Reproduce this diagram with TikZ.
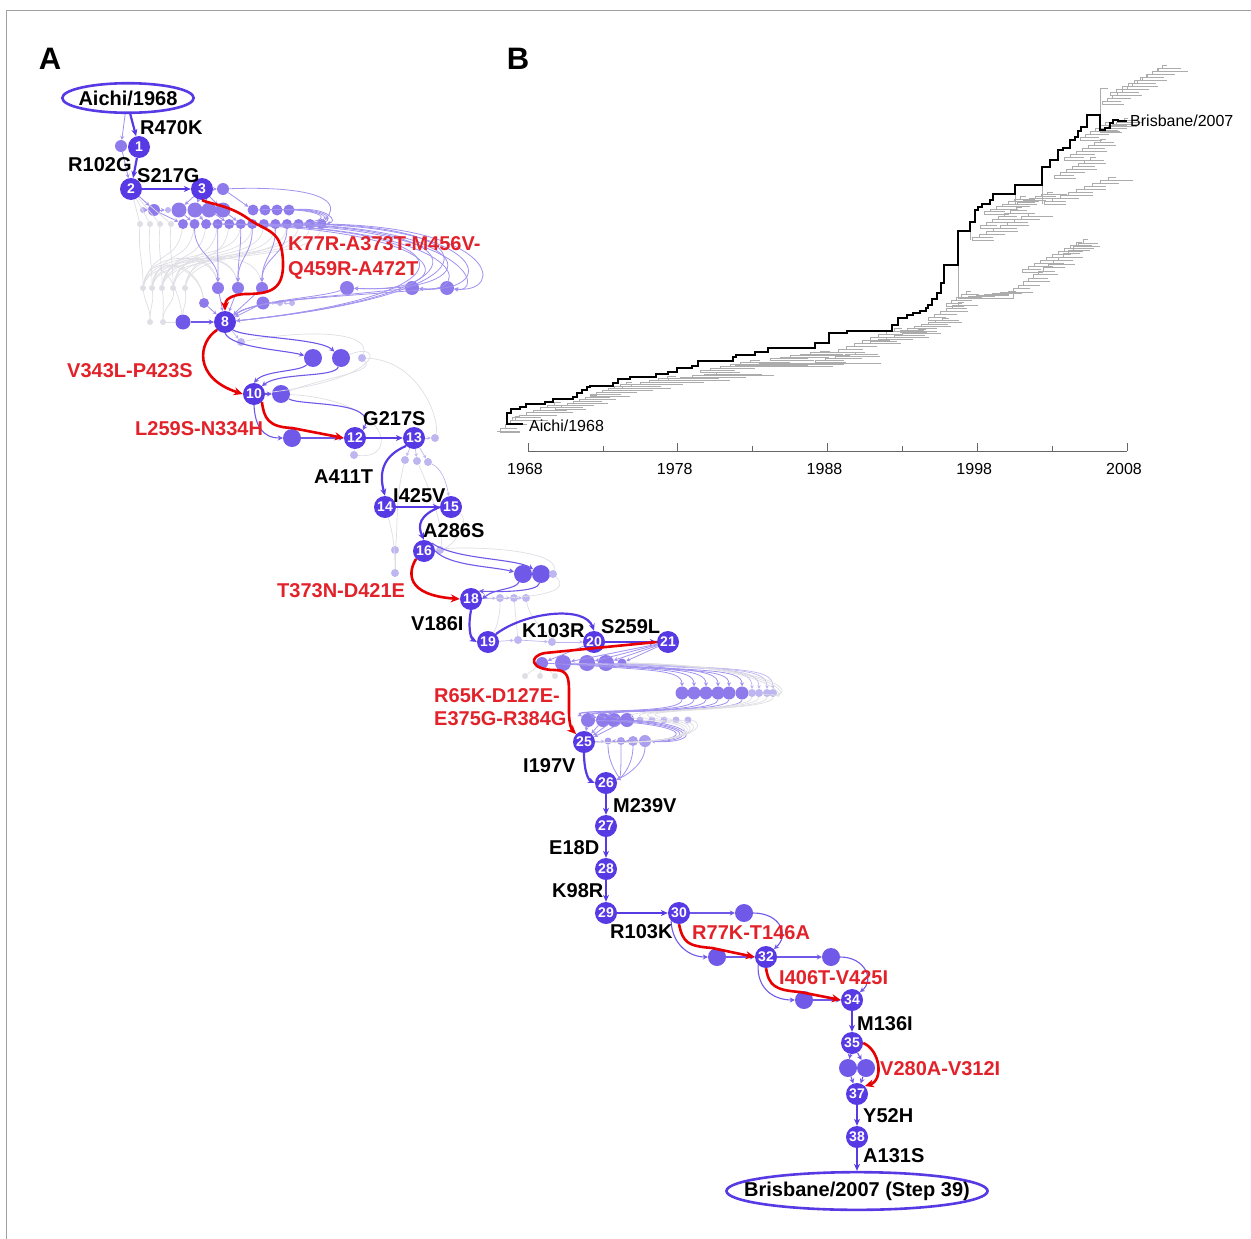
\documentclass[tikz,border=0pt]{standalone}
\usepackage{fontspec}
\setmainfont{Liberation Sans}
\usepackage{tikz}
\usetikzlibrary{positioning,arrows.meta,calc,shapes.geometric,backgrounds}
\definecolor{stepc}{RGB}{88,58,228}
\definecolor{sidec}{RGB}{112,88,232}
\definecolor{midc}{RGB}{142,122,234}
\definecolor{lightc}{RGB}{190,182,240}
\definecolor{wirec}{RGB}{160,146,238}
\definecolor{paleg}{RGB}{222,222,228}
\definecolor{hotred}{RGB}{232,0,0}
\definecolor{redtxt}{RGB}{226,34,42}
\definecolor{twigc}{RGB}{172,172,172}
\definecolor{framec}{RGB}{160,160,160}
\tikzset{
  stepnode/.style={circle, fill=stepc, minimum size=22pt, inner sep=0pt, text=white, font=\bfseries\fontsize{14}{14}\selectfont},
  sidenode/.style={circle, fill=sidec, minimum size=18pt, inner sep=0pt},
  dotm/.style={circle, fill=midc, minimum size=11pt, inner sep=0pt},
  dotl/.style={circle, fill=lightc, minimum size=8pt, inner sep=0pt},
  dotg/.style={circle, fill=paleg, minimum size=6pt, inner sep=0pt},
  strain/.style={ellipse, draw=stepc, line width=2.6pt, font=\bfseries\fontsize{20}{22}\selectfont},
  mainarr/.style={-{Stealth[length=7pt,width=6pt]}, line width=2.2pt, draw=stepc},
  sidearr/.style={-{Stealth[length=5pt,width=5pt]}, line width=1.1pt, draw=sidec},
  redarr/.style={-{Stealth[length=9pt,width=8pt]}, line width=2.6pt, draw=hotred},
  wire/.style={-{Stealth[length=4pt,width=4pt]}, line width=0.8pt, draw=wirec},
  wirel/.style={-{Stealth[length=3.5pt,width=3.5pt]}, line width=0.7pt, draw=lightc},
  ghost/.style={line width=0.7pt, draw=paleg},
  mlab/.style={font=\bfseries\fontsize{20}{25}\selectfont, inner sep=0pt, anchor=base west},
  rlab/.style={mlab, text=redtxt},
  trunk/.style={line width=1.8pt, draw=black},
  twig/.style={line width=0.6pt, draw=twigc},
  axisline/.style={line width=0.8pt, draw=black!60},
  yearlab/.style={font=\fontsize{16}{18}\selectfont, inner sep=0pt},
  panellab/.style={font=\bfseries\fontsize{31}{31}\selectfont, inner sep=0pt}
}

\begin{document}
\begin{tikzpicture}[x=1pt, y=1pt, >=Stealth]
\useasboundingbox (0,0) rectangle (1251,-1239);
\draw[framec, line width=0.8pt] (6,-1239) -- (6,-10) -- (1251,-10);
\node[panellab] (panelA) at (50,-59) {A};
\node[panellab] (panelB) at (518,-59) {B};

% ---------- panel A: mutational steps ----------
\node[strain, inner xsep=-3pt, inner ysep=3pt] (aichi) at (128,-98) {Aichi/1968};
\foreach \n/\x/\y in {1/139/147, 2/131/189, 3/202/189, 8/225/322, 10/254/394, 12/355/438,
  13/414/438, 14/385/507, 15/451/507, 16/424/551, 18/471/599, 19/488/642, 20/594/642,
  21/668/642, 25/584/742, 26/606/783, 27/606/826, 28/606/869, 29/606/913, 30/679/913,
  32/766/957, 34/852/1000, 35/852/1043, 37/857/1094, 38/857/1137}
  \node[stepnode] (n\n) at (\x,-\y) {\n};
\node[strain, inner xsep=-20.5pt, inner ysep=4pt] (brisbane) at (857,-1191) {Brisbane/2007 (Step 39)};

% side nodes of the last steps
\node[sidenode] (m1) at (744,-913) {};
\node[sidenode] (m2) at (717,-957) {};
\node[sidenode] (m3) at (831,-957) {};
\node[sidenode] (m4) at (804,-1000) {};
\node[sidenode] (m5) at (848,-1068) {};
\node[sidenode] (m6) at (866,-1068) {};

\begin{scope}[on background layer]
% cloud below step 3
\node[dotm, minimum size=12pt] (l0) at (121,-146) {};
\node[dotm, minimum size=12pt] (p0) at (223,-189) {};
\foreach \x/\s [count=\i] in {154/12pt,179/15pt,195/15pt,209/15pt,223/15pt,253/11pt,265/11pt,277/11pt,289/11pt}
  \node[dotm, minimum size=\s] (a\i) at (\x,-210) {};
\node[dotl, minimum size=6pt] (la1) at (143,-210) {};
\node[dotl, minimum size=6pt] (la2) at (168,-210) {};
\foreach \x [count=\i] in {140,150,160,171}
  \node[dotg] (gb\i) at (\x,-224) {};
\foreach \i in {1,...,13}
  \node[dotm, minimum size=10pt] (b\i) at ({183+11.55*(\i-1)},-224) {};
\foreach \x [count=\i] in {143,152,162,173,185}
  \node[dotg] (gc\i) at (\x,-288) {};
\foreach \x/\s [count=\i] in {218/12pt,238/12pt,262/12pt,347/14pt,412/14pt,447/14pt}
  \node[dotm, minimum size=\s] (c\i) at (\x,-288) {};
\node[dotm, minimum size=10pt] (d1) at (204,-303) {};
\node[dotm, minimum size=13pt] (d2) at (263,-303) {};
\node[dotl, minimum size=6pt] (d3) at (280,-303) {};
\node[dotl, minimum size=6pt] (d4) at (292,-303) {};
\node[dotg] (ge1) at (150,-322) {};
\node[dotg] (ge2) at (163,-322) {};
\node[sidenode, minimum size=15pt] (e3) at (183,-322) {};

\foreach \i/\t in {1/ge1,2/ge1,3/ge2,4/ge2,5/e3}
  \draw[ghost] (gc\i) .. controls +(2,-15) and +(0,15) .. (\t);
\foreach \i in {1,...,13}{
  \pgfmathtruncatemacro{\j}{mod(\i-1,5)+1}
  \draw[ghost] (b\i) .. controls +(-6,-40) and +(10,40) .. (gc\j);
}
\foreach \i in {1,...,4}
  \draw[ghost] (gb\i) .. controls +(-2,-30) and +(0,30) .. (gc\i);
\foreach \i/\t in {1/d1,2/d1,3/c1,4/c2,5/c3,2/e3,1/c1,3/c2}
  \draw[ghost] (gc\i) .. controls +(5,38) and +(-5,38) .. (\t);
\foreach \i in {1,...,4}
  \draw[ghost] (n2) -- (gb\i);
\draw[ghost] (ge2) -- (e3);
\draw[wire] (aichi.-100) -- (l0);
\draw[wire] (l0) -- (n2);
\draw[wire] (n2) -- (a1);
\draw[wire] (la1) -- (a1);
\draw[wire] (a1) -- (la2);
\draw[wire] (n3) -- (p0);
\foreach \i in {2,...,5}
  \draw[wire] (n3) -- (a\i);
\draw[wire] (p0) -- (a6);
\foreach \i/\j in {1/1,2/2,3/3,4/5,5/6}
  \draw[wire] (a\i) -- (b\j);
\foreach \i/\j in {6/10,7/11,8/12,9/13}
  \draw[wire] (a\i) .. controls (330,-207) and (338,-222) .. (b\j);
\draw[wire] (p0) .. controls (300,-186) and (345,-196) .. (b13);
\foreach \i/\t in {2/c1,4/c1,6/c2,7/c2,9/c3,10/c3}
  \draw[wire] (b\i) .. controls +(0,-30) and +(0,30) .. (\t);
\foreach \i/\t/\r in {3/c4/462,5/c5/470,7/c6/478,9/c4/486,11/c5/494,13/c6/500,4/n8/480,8/n8/490,12/n8/496}
  \draw[wire] (b\i) .. controls (\r,-227) and ({\r+5},-294) .. (\t);
\foreach \t in {c1,c2,c3,d1,d2}
  \draw[wire] (\t) -- (n8);
\foreach \t in {c4,c5,c6}
  \draw[wire] (\t) .. controls (320,-298) and (255,-300) .. (n8);
\draw[wirel] (d3) -- (d2);
\draw[wirel] (d4) -- (d3);

% between steps 8 and 13
\node[dotl] (q1) at (241,-342) {};
\node[sidenode] (q2) at (313,-358) {};
\node[sidenode] (q3) at (341,-358) {};
\node[dotl] (q4) at (362,-358) {};
\node[sidenode] (q5) at (281,-394) {};
\node[sidenode] (q6) at (292,-438) {};
\node[dotl] (q7) at (354,-455) {};
\node[dotl] (q8) at (435,-438) {};
\draw[wirel] (n8) -- (q1);
\draw[ghost] (q1) .. controls (300,-330) and (372,-330) .. (q4);
\draw[ghost] (q3) .. controls (385,-340) and (385,-380) .. (n10);
\draw[ghost] (q4) .. controls (375,-372) and (330,-376) .. (q5);
\draw[ghost] (q5) .. controls (390,-400) and (400,-460) .. (q7);
\draw[ghost] (q4) .. controls (420,-360) and (440,-420) .. (q8);
\draw[ghost] (n12) -- (q7);
\draw[wirel] (n13) -- (q8);

% between steps 13 and 16
\node[dotl] (r1) at (405,-460) {};
\node[dotl] (r2) at (417,-461) {};
\node[dotl] (r3) at (428,-462) {};
\node[dotl] (r4) at (395,-550) {};
\node[dotl] (r5) at (395,-573) {};
\node[dotl] (r6) at (440,-550) {};
\foreach \t in {r1,r2,r3}
  \draw[wirel] (n13) -- (\t);
\draw[wirel] (r3) .. controls (445,-470) and (448,-492) .. (n15);
\draw[ghost] (r1) .. controls (395,-500) and (398,-530) .. (r4);
\draw[ghost] (r2) .. controls (430,-490) and (445,-530) .. (r6);
\draw[ghost] (n14) .. controls (392,-530) and (395,-545) .. (r5);
\draw[ghost] (r4) -- (r5);
\draw[ghost] (n15) .. controls (470,-520) and (455,-545) .. (r6);
\draw[wirel] (n16) -- (r6);

% between steps 16 and 21
\node[sidenode] (s1) at (523,-574) {};
\node[sidenode] (s2) at (541,-574) {};
\node[dotl] (s3) at (553,-574) {};
\node[dotl] (t1) at (500,-598) {};
\node[dotl] (t2) at (514,-598) {};
\node[dotl] (t3) at (526,-598) {};
\node[dotl] (t4) at (518,-640) {};
\node[dotl] (t5) at (552,-642) {};
\draw[ghost] (n16) .. controls (470,-545) and (560,-550) .. (s3);
\draw[ghost] (s3) .. controls (575,-595) and (520,-598) .. (n18);
\draw[wirel] (n18) -- (t1);
\draw[wirel] (t1) -- (t2);
\draw[wirel] (t2) -- (t3);
\draw[ghost] (t1) .. controls (500,-620) and (495,-630) .. (n19);
\draw[ghost] (t2) -- (t4);
\draw[ghost] (t3) .. controls (530,-620) and (545,-630) .. (t5);
\draw[wirel] (n19) -- (t4);
\draw[wirel] (t4) -- (t5);
\draw[wirel] (t5) -- (n20);

% cloud between steps 21 and 26
\foreach \x/\s [count=\i] in {542/12pt,563/16pt,587/16pt,606/16pt,622/9pt}
  \node[dotm, minimum size=\s] (f\i) at (\x,-663) {};
\foreach \x [count=\i] in {525,540,555}
  \node[dotg] (fg\i) at (\x,-676) {};
\foreach \x [count=\i] in {682,694,706,718,729,742}
  \node[dotm, minimum size=13pt] (w\i) at (\x,-693) {};
\foreach \x [count=\i from 7] in {752,759,767,773}
  \node[dotl, minimum size=8pt] (w\i) at (\x,-693) {};
\foreach \x [count=\i] in {588,603,614,627}
  \node[dotm, minimum size=14pt] (u\i) at (\x,-720) {};
\foreach \x [count=\i from 5] in {640,652,664,676,688}
  \node[dotl, minimum size=7pt] (u\i) at (\x,-720) {};
\foreach \x/\s [count=\i] in {608/7pt,621/8pt,633/10pt,645/12pt}
  \node[dotm, fill=lightc!60!midc, minimum size=\s] (v\i) at (\x,-741) {};
\foreach \i in {2,...,5}
  \draw[wire] (n21) -- (f\i);
\draw[wire] (n20) -- (f1);
\foreach \i in {1,2,3}
  \draw[ghost] (f1) -- (fg\i);
\foreach \x [count=\i] in {682,694,706,718,729,742}{
  \pgfmathtruncatemacro{\j}{mod(\i,5)+1}
  \draw[wire] (f\j) .. controls ({\x-40},-671) and (\x,-668) .. (w\i);
}
\foreach \x [count=\i from 7] in {752,759,767,773}{
  \pgfmathtruncatemacro{\j}{mod(\i,4)+2}
  \draw[wirel] (f\j) .. controls ({\x-30},-669) and (\x,-668) .. (w\i);
}
\foreach \r/\t in {785/w10,792/w9,799/w8}
  \draw[ghost] (f5) .. controls (\r,-666) and (\r,-702) .. (\t);
\foreach \i in {1,...,6}{
  \pgfmathtruncatemacro{\k}{mod(\i-1,4)+1}
  \draw[wire] (w\i) .. controls +(0,-22) and (568,-708) .. (u\k);
}
\foreach \i/\k in {7/5,8/6,9/7,10/8}
  \draw[ghost] (w\i) .. controls +(0,-20) and (600,-708) .. (u\k);
\foreach \k in {1,...,4}
  \draw[wire] (u\k) .. controls (700,-724) and (700,-744) .. (v\k);
\foreach \k in {1,...,4}
  \draw[wire] (u\k) -- (n25);
\foreach \k in {5,...,9}
  \draw[ghost] (u\k) .. controls (705,-722) and (705,-745) .. (n25);
\draw[wirel] (n25) -- (v1);
\foreach \k in {1,...,4}
  \draw[wire] (v\k) .. controls +(0,-25) and +(15,5) .. (n26);
\end{scope}

% side routes (medium lines)
\draw[sidearr] (n8.south) .. controls (232,-348) and (285,-350) .. (q2);
\draw[sidearr] (n8.south east) .. controls (245,-338) and (320,-338) .. (q3);
\draw[sidearr] (q2) .. controls (300,-372) and (265,-370) .. (n10.north);
\draw[sidearr] (q3) .. controls (335,-378) and (280,-372) .. (n10.north east);
\draw[sidearr] (n10) -- (q5);
\draw[sidearr] (q5) .. controls (300,-406) and (378,-400) .. (n12.north east);
\draw[sidearr] (n10.south) .. controls (255,-425) and (262,-438) .. (q6);
\draw[sidearr] (q6) -- (n12);
\draw[sidearr] (e3) -- (n8);
\draw[sidearr] (n16.east) .. controls (450,-566) and (490,-566) .. (s1);
\draw[sidearr] (n16.north east) .. controls (455,-560) and (515,-558) .. (s2);
\draw[sidearr] (s1) .. controls (515,-590) and (495,-588) .. (n18.east);
\draw[sidearr] (s2) .. controls (538,-592) and (500,-592) .. (n18.north east);
\draw[sidearr] (n30) -- (m1);
\draw[sidearr] (m1) .. controls (780,-913) and (790,-935) .. (n32.north east);
\draw[sidearr] (n30.south west) .. controls (672,-945) and (690,-957) .. (m2);
\draw[sidearr] (m2) -- (n32);
\draw[sidearr] (n32) -- (m3);
\draw[sidearr] (m3) .. controls (865,-957) and (875,-980) .. (n34.north east);
\draw[sidearr] (n32.south west) .. controls (757,-990) and (775,-1000) .. (m4);
\draw[sidearr] (m4) -- (n34);
\draw[sidearr] (n35) -- (m5);
\draw[sidearr] (n35) -- (m6);
\draw[sidearr] (m5) -- (n37);
\draw[sidearr] (m6) -- (n37);

% main path
\draw[mainarr] (aichi.-82) -- (n1);
\draw[mainarr] (n1) -- (n2);
\draw[mainarr] (n2) -- (n3);
\draw[mainarr] (n12) -- (n13);
\draw[mainarr] (n13.south west) .. controls (385,-455) and (378,-470) .. (n14.north);
\draw[mainarr] (n14) -- (n15);
\draw[mainarr] (n15.west) .. controls (420,-515) and (417,-525) .. (n16.north);
\draw[mainarr] (n18.south) .. controls (468,-625) and (470,-638) .. (n19.west);
\draw[mainarr] (n19.north east) .. controls (525,-612) and (585,-605) .. (n20.north);
\draw[mainarr] (n20) -- (n21);
\draw[mainarr] (n25.south) .. controls (584,-770) and (588,-780) .. (n26.west);
\draw[mainarr] (n26) -- (n27);
\draw[mainarr] (n27) -- (n28);
\draw[mainarr] (n28) -- (n29);
\draw[mainarr] (n29) -- (n30);
\draw[mainarr] (n34) -- (n35);
\draw[mainarr] (n37) -- (n38);
\draw[mainarr] (n38) -- (brisbane);

% multi-mutation jumps
\draw[redarr] (n3.south) .. controls (210,-204) and (230,-205) .. (250,-220)
  .. controls (268,-232) and (282,-230) .. (283,-262)
  .. controls (284,-290) and (270,-294) .. (245,-294)
  .. controls (230,-295) and (225,-300) .. (n8.north);
\draw[redarr] (n8.south west) .. controls (198,-342) and (193,-378) .. (n10.west);
\draw[redarr] (n10.south east) .. controls (264,-418) and (268,-427) .. (292,-428) -- (n12.west);
\draw[redarr] (n16.south west) .. controls (408,-572) and (405,-595) .. (n18.west);
\draw[redarr] (n21.west) -- (545,-653) .. controls (528,-656) and (530,-670) .. (555,-670)
  .. controls (568,-670) and (569,-678) .. (569,-692) -- (569,-712)
  .. controls (569,-725) and (572,-730) .. (n25.north west);
\draw[redarr] (n30.south) .. controls (683,-943) and (688,-946) .. (712,-948) -- (n32.west);
\draw[redarr] (n32.south) .. controls (769,-986) and (775,-990) .. (800,-992) -- (n34.west);
\draw[redarr] (n35.east) .. controls (880,-1050) and (884,-1080) .. (n37.north east);

% labels
\node[mlab] (lR470K) at (140,-135) {R470K};
\node[mlab] (lR102G) at (68,-171) {R102G};
\node[mlab] (lS217G) at (137,-182) {S217G};
\node[rlab] (lK77R) at (288,-250) {K77R-A373T-M456V-};
\node[rlab] (lQ459R) at (288,-275) {Q459R-A472T};
\node[rlab] (lV343L) at (67,-377) {V343L-P423S};
\node[rlab] (lL259S) at (135,-435) {L259S-N334H};
\node[mlab] (lG217S) at (363,-425) {G217S};
\node[mlab] (lA411T) at (314,-483) {A411T};
\node[mlab] (lI425V) at (393,-502) {I425V};
\node[mlab] (lA286S) at (423,-537) {A286S};
\node[rlab] (lT373N) at (277,-597) {T373N-D421E};
\node[mlab] (lV186I) at (411,-630) {V186I};
\node[mlab] (lK103R) at (522,-637) {K103R};
\node[mlab] (lS259L) at (601,-633) {S259L};
\node[rlab] (lR65K) at (434,-702) {R65K-D127E-};
\node[rlab] (lE375G) at (434,-725) {E375G-R384G};
\node[mlab] (lI197V) at (523,-772) {I197V};
\node[mlab] (lM239V) at (613,-812) {M239V};
\node[mlab] (lE18D) at (549,-854) {E18D};
\node[mlab] (lK98R) at (552,-897) {K98R};
\node[mlab] (lR103K) at (610,-938) {R103K};
\node[rlab] (lR77K) at (692,-939) {R77K-T146A};
\node[rlab] (lI406T) at (779,-984) {I406T-V425I};
\node[mlab] (lM136I) at (857,-1030) {M136I};
\node[rlab] (lV280A) at (880,-1075) {V280A-V312I};
\node[mlab] (lY52H) at (863,-1122) {Y52H};
\node[mlab] (lA131S) at (863,-1162) {A131S};

% ---------- panel B: tree ----------
\foreach \cx/\cy/\cn/\cw/\ch/\cl in {500/432/3/5/4/22, 512/420/6/7/2.5/40, 555/409/6/6/2/35,
  590/396/6/6/2/45, 622/388/5/9/2/55, 668/380/4/12/1.5/70, 700/372/5/10/2/45, 735/366/3/12/1/110,
  770/360/5/10/1.5/50, 815/362/4/10/2/35, 838/352/7/8/3/30, 870/343/6/8/2/35, 900/332/6/7/2/30,
  928/320/5/6/3/22, 946/306/4/5/3/20, 960/298/6/8/1/25, 1013/292/14/5/3.5/22, 1022/272/9/6/3/24,
  972/240/8/7/3/25, 980/228/6/6/3/20,
  984/214/6/6/2.5/28, 1017/204/5/6/2/22, 1044/204/8/8/3/25, 1054/178/6/6/3/25, 1064/160/6/6/3/25,
  1080/140/5/5/3/25, 1102/104/12/5/3/25, 1110/95/8/6/3/30, 1100/132/6/4/2/25}{
  \foreach \k in {0,...,\cn}{
    \pgfmathsetmacro{\bx}{\cx+\k*\cw}
    \pgfmathsetmacro{\by}{-\cy+\k*\ch}
    \pgfmathsetmacro{\bl}{\cl*(0.55+0.45*mod(\k*7+3,5)/4)}
    \draw[twig] (\bx,\by) -- ++(0,\ch) -- ++(\cw,0);
    \draw[twig] (\bx,\by) -- ++(\bl,0);
  }
}
\draw[twig] (958,-265) -- (958,-298) -- (1013,-298) -- (1013,-292);
\draw[twig] (970,-222) -- (970,-240);
\draw[twig] (1015,-185) -- (1015,-204);
\draw[twig] (1042,-167) -- (1042,-204);
\draw[twig] (1100,-115) -- (1100,-88) -- (1108,-88);
\draw[twig] (497,-431) -- (520,-431);
\draw[trunk] (523,-424) -- (507,-424) \foreach \px/\py in {507/413, 511/409, 520/407, 526/404,
  545/402, 553/399, 573/397, 577/393, 582/390, 587/387, 590/386, 613/383, 618/379, 630/377,
  656/374, 668/372, 677/368, 692/366, 698/361, 733/357, 736/355, 755/352, 768/348, 815/343,
  829/333, 847/331, 892/325, 898/318, 907/315, 913/313, 920/311, 926/308, 928/305, 932/299,
  937/293, 941/283, 944/265, 958/231, 970/222, 975/210, 978/207, 982/204, 990/200, 993/194,
  1015/185, 1042/167, 1050/160, 1058/150, 1063/148, 1070/140, 1075/137, 1078/131, 1081/127,
  1087/115, 1100/130, 1105/128, 1110/123, 1113/120, 1118/121, 1127/121} { -| (\px,-\py) };
\node[yearlab, anchor=west] (tipAichi) at (529,-426) {Aichi/1968};
\node[yearlab, anchor=west] (tipBris) at (1130,-121) {Brisbane/2007};
\draw[axisline] (528,-451) -- (1127,-451);
\foreach \yr [count=\i from 0] in {1968,1978,1988,1998,2008}{
  \draw[axisline] ({528+149.75*\i},-451) -- ++(0,8);
  \node[yearlab] (yr\yr) at ({525+149.75*\i},-469) {\yr};
}
\foreach \i in {0,...,3}
  \draw[axisline] ({603+149.75*\i},-451) -- ++(0,5);
\end{tikzpicture}
\end{document}
